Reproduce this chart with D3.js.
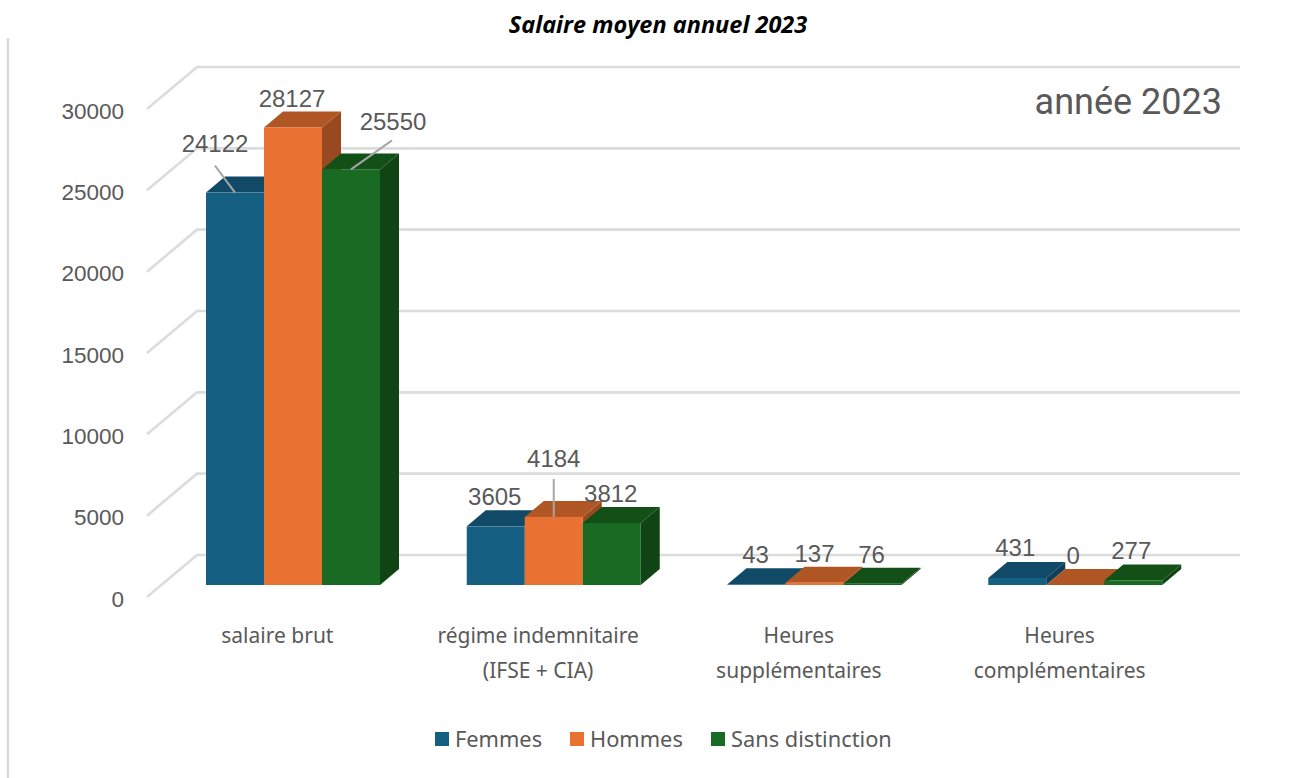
<!DOCTYPE html>
<html>
<head>
<meta charset="utf-8">
<script src="https://cdnjs.cloudflare.com/ajax/libs/d3/7.8.5/d3.min.js"></script>
<style>
    html, body { margin: 0; padding: 0; background: #fff; }
    svg { display: block; }
    text { fill: #595959; }
</style>
</head>
<body>
<svg id="chart" width="1294" height="778"></svg>
<script>
var categories = [
    ['salaire brut'],
    ['régime indemnitaire', '(IFSE + CIA)'],
    ['Heures', 'supplémentaires'],
    ['Heures', 'complémentaires']
];
var catKeys = ['brut', 'regime', 'supp', 'comp'];
var seriesNames = ['Femmes', 'Hommes', 'Sans distinction'];
var femmes = [24122, 3605, 43, 431];
var hommes = [28127, 4184, 137, 0];
var sansDistinction = [25550, 3812, 76, 277];
var yTicks = [0, 5000, 10000, 15000, 20000, 25000, 30000];

var colors = [
    { front: '#156082', top: '#104a66', side: '#0e3f57' },
    { front: '#e97132', top: '#b05624', side: '#99491f' },
    { front: '#196b24', top: '#125018', side: '#104415' }
];

var allSeries = [femmes, hommes, sansDistinction];

// label nudges from the top-front-centre of each bar, [dx, dy], by series then category
var labelNudge = [
    [[-20, -49], [-1, -30], [-1, -30], [-2, -31]],
    [[-1, -29], [0, -59], [0, -29], [-2, -30]],
    [[42, -48], [-1, -30], [-1, -29], [-2, -30]]
];
// leader lines, only where the label was dragged away from the bar
var leaders = [
    { s: 0, c: 0, dx: -20, dy: -27 },
    { s: 1, c: 1, dx: 0, dy: -38 },
    { s: 2, c: 0, dx: 41, dy: -29 }
];

var svg = d3.select('#chart');

var yScale = d3.scaleLinear().domain([0, 30000]).range([597, 109]);
var xBand = d3.scaleBand().domain(catKeys).range([147, 1190]);
var xInner = d3.scaleBand().domain(seriesNames).range([59, 233]);

// depth of the whole chart box and of a single bar
var wallDx = 50, wallDy = -42;
var barDx = 19, barDy = -16;
var floorOffset = 12;
var gridRight = 1240;

var gridLine = d3.line();

// left border of the picture
svg.append('line')
    .attr('x1', 8).attr('x2', 8)
    .attr('y1', 38).attr('y2', 778)
    .attr('stroke', '#d9d9d9')
    .attr('stroke-width', 2.4);

svg.append('g').attr('id', 'grid')
    .selectAll('path')
    .data(yTicks)
    .enter().append('path')
    .attr('fill', 'none')
    .attr('stroke', '#dcdcdc')
    .attr('stroke-width', 2.6)
    .attr('d', function (d) {
        var y = yScale(d);
        return gridLine([[147, y], [147 + wallDx, y + wallDy], [gridRight, y + wallDy]]);
    });

var axis = d3.axisLeft(yScale)
    .tickValues(yTicks)
    .tickFormat(d3.format('d'))
    .tickSize(0)
    .tickPadding(0);

var axisG = svg.append('g')
    .attr('transform', 'translate(124,0)')
    .call(axis);
axisG.select('.domain').remove();
axisG.selectAll('text')
    .attr('dy', '0.36em')
    .attr('y', 1)
    .style('font-family', '"Liberation Sans"')
    .style('font-size', '22.5px')
    .style('fill', '#595959');

function poly(points) {
    return points.map(function (p) { return p.join(','); }).join(' ');
}

var base = yScale(0) - floorOffset;

function barTop(v) {
    return base - (yScale(0) - yScale(v));
}

var barsG = svg.append('g').attr('id', 'bars');

catKeys.forEach(function (key, c) {
    seriesNames.forEach(function (name, s) {
        var v = allSeries[s][c];
        var x0 = xBand(key) + xInner(name);
        var x1 = x0 + xInner.bandwidth();
        var yt = barTop(v);
        var g = barsG.append('g');

        g.append('polygon')
            .attr('points', poly([[x1, base], [x1 + barDx, base + barDy], [x1 + barDx, yt + barDy], [x1, yt]]))
            .attr('fill', colors[s].side);
        g.append('polygon')
            .attr('points', poly([[x0, yt], [x1, yt], [x1 + barDx, yt + barDy], [x0 + barDx, yt + barDy]]))
            .attr('fill', colors[s].top);
        g.append('rect')
            .attr('x', x0)
            .attr('y', yt)
            .attr('width', x1 - x0)
            .attr('height', base - yt)
            .attr('fill', colors[s].front);
    });
});

// leader lines
leaders.forEach(function (l) {
    var x0 = xBand(catKeys[l.c]) + xInner(seriesNames[l.s]) + xInner.bandwidth() / 2;
    var y0 = barTop(allSeries[l.s][l.c]);
    svg.append('line')
        .attr('x1', x0).attr('y1', y0)
        .attr('x2', x0 + l.dx).attr('y2', y0 + l.dy)
        .attr('stroke', '#a6a6a6')
        .attr('stroke-width', 2);
});

// value labels
seriesNames.forEach(function (name, s) {
    svg.append('g').selectAll('text')
        .data(allSeries[s])
        .enter().append('text')
        .attr('text-anchor', 'middle')
        .attr('dy', '0.36em')
        .attr('x', function (d, i) {
            return xBand(catKeys[i]) + xInner(name) + xInner.bandwidth() / 2 + labelNudge[s][i][0];
        })
        .attr('y', function (d, i) { return barTop(d) + labelNudge[s][i][1]; })
        .style('font-family', '"Liberation Sans"')
        .style('font-size', '24px')
        .text(function (d) { return d; });
});

// category labels
var catG = svg.append('g').selectAll('text')
    .data(categories)
    .enter().append('text')
    .attr('text-anchor', 'middle')
    .style('font-family', '"Noto Sans"')
    .style('font-size', '21px');

catG.selectAll('tspan')
    .data(function (d, i) {
        return d.map(function (t) { return { t: t, key: catKeys[i] }; });
    })
    .enter().append('tspan')
    .attr('x', function (d) { return xBand(d.key) + xBand.bandwidth() / 2; })
    .attr('y', function (d, i) { return 643 + i * 35; })
    .text(function (d) { return d.t; });

// legend
var legendSquareX = [435, 570, 711];
var legend = svg.append('g').selectAll('g')
    .data(seriesNames)
    .enter().append('g')
    .attr('transform', function (d, i) { return 'translate(' + legendSquareX[i] + ',732)'; });

legend.append('rect')
    .attr('width', 14)
    .attr('height', 14)
    .attr('fill', function (d, i) { return colors[i].front; });

legend.append('text')
    .attr('x', 20)
    .attr('y', 15)
    .style('font-family', '"Noto Sans"')
    .style('font-size', '21.8px')
    .text(function (d) { return d; });

// year note in the top right corner
svg.append('text')
    .attr('x', 1222)
    .attr('y', 114)
    .attr('text-anchor', 'end')
    .style('font-family', 'Roboto')
    .style('font-size', '36px')
    .text('année 2023');

svg.append('text')
    .attr('x', 658)
    .attr('y', 33)
    .attr('text-anchor', 'middle')
    .style('font-family', '"Open Sans"')
    .style('font-weight', 'bold')
    .style('font-style', 'italic')
    .style('font-size', '23.5px')
    .style('fill', '#000')
    .text('Salaire moyen annuel 2023');
</script>
</body>
</html>
